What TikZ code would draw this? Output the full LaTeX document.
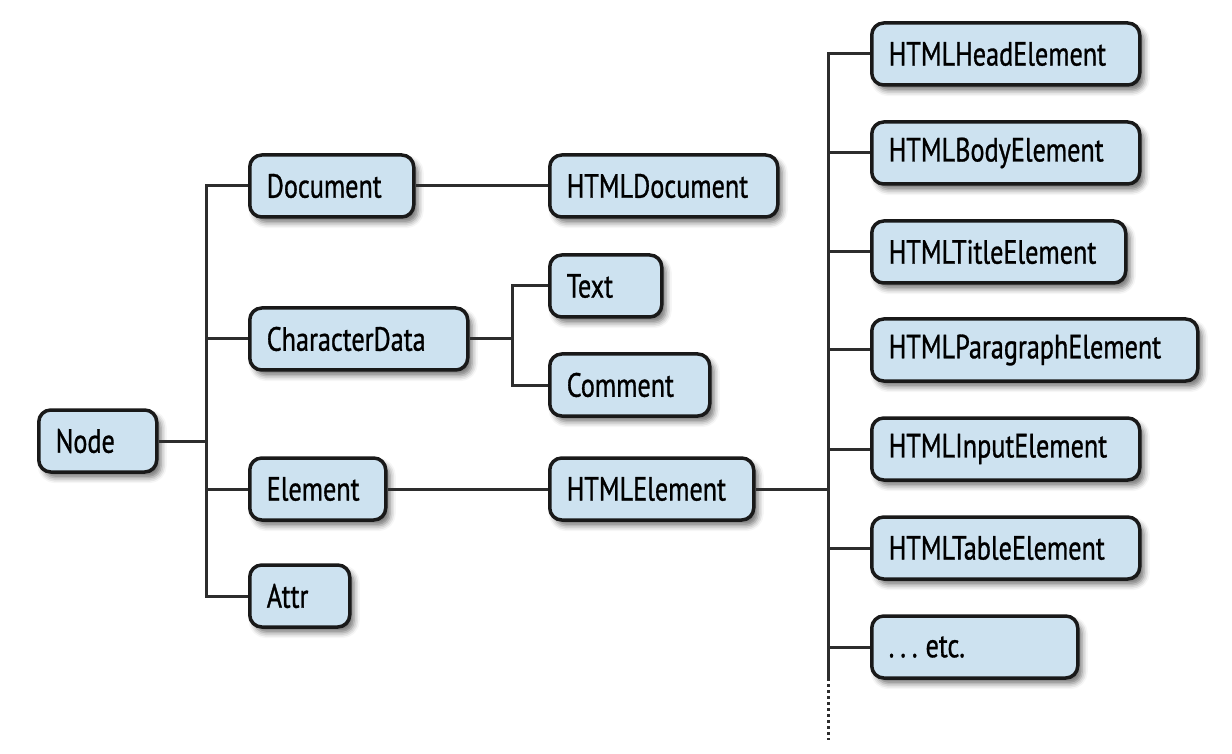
\documentclass[tikz,border=0pt]{standalone}
\usepackage{fontspec}
\setmainfont{PT Sans}[FakeStretch=0.78, FakeBold=0.9]
\usetikzlibrary{positioning,shadows.blur}
\definecolor{boxfill}{RGB}{205,226,240}
\definecolor{boxline}{RGB}{25,25,25}
\definecolor{wire}{RGB}{45,45,45}
\tikzset{
  box/.style={draw=boxline, fill=boxfill, rounded corners=6pt, line width=1.75pt,
              anchor=west, align=left, inner xsep=8.5pt, inner ysep=0pt,
              minimum height=31pt, text width=#1,
              font=\fontsize{16.8}{18}\selectfont,
              blur shadow={shadow xshift=2.2pt, shadow yshift=-2.8pt,
                           shadow blur radius=2.8pt, shadow opacity=55}},
  link/.style={draw=wire, line width=1.5pt},
}

\begin{document}
\begin{tikzpicture}[x=0.5pt, y=-0.5pt]
  \useasboundingbox (0,0) rectangle (1232,754);

  %% left part
  \node[box=42pt] (node) at (37,441) {Node};
  \node[box=65pt] (document) at (248,186) {Document};
  \node[box=92pt] (chardata) at (248,339) {CharacterData};
  \node[box=51pt] (element) at (248,489) {Element};
  \node[box=33pt] (attr) at (248,596) {Attr};

  \coordinate (split1) at (206,441);
  \draw[link] (node) -- (split1);
  \draw[link] (document.west) -| (split1) |- (attr.west);
  \draw[link] (split1 |- chardata) -- (chardata);
  \draw[link] (split1 |- element) -- (element);

  %% middle part
  \node[box=97pt] (htmldoc) at (548,186) {HTMLDocument};
  \node[box=39pt] (text) at (548,286) {Text};
  \node[box=63pt] (comment) at (548,385) {Comment};
  \node[box=85pt] (htmlelem) at (548,489) {HTMLElement};

  \draw[link] (document) -- (htmldoc);
  \coordinate (split2) at (512,339);
  \draw[link] (chardata) -- (split2);
  \draw[link] (text.west) -| (split2) |- (comment.west);
  \draw[link] (element) -- (htmlelem);

  %% right column
  \node[box=117pt] (head) at (870,54) {HTMLHeadElement};
  \node[box=117pt] (body) at (870,153) {HTMLBodyElement};
  \node[box=110pt] (title) at (870,252) {HTMLTitleElement};
  \node[box=146pt] (para) at (870,350) {HTMLParagraphElement};
  \node[box=117pt] (input) at (870,449) {HTMLInputElement};
  \node[box=117pt] (table) at (870,548) {HTMLTableElement};
  \node[box=86pt] (etc) at (870,647) {.\hspace{3pt}.\hspace{3pt}.\hspace{4pt}etc.};

  \coordinate (split3) at (828,489);
  \coordinate (trunkend) at (828,678);
  \coordinate (trunktail) at (828,740);
  \draw[link] (htmlelem) -- (split3);
  \draw[link] (head.west) -| (split3) -- (trunkend);
  \foreach \n in {body,title,para,input,table,etc}
    \draw[link] (split3 |- \n) -- (\n);
  \draw[link, dash pattern=on 1.5pt off 1.5pt] (trunkend) -- (trunktail);
\end{tikzpicture}
\end{document}
